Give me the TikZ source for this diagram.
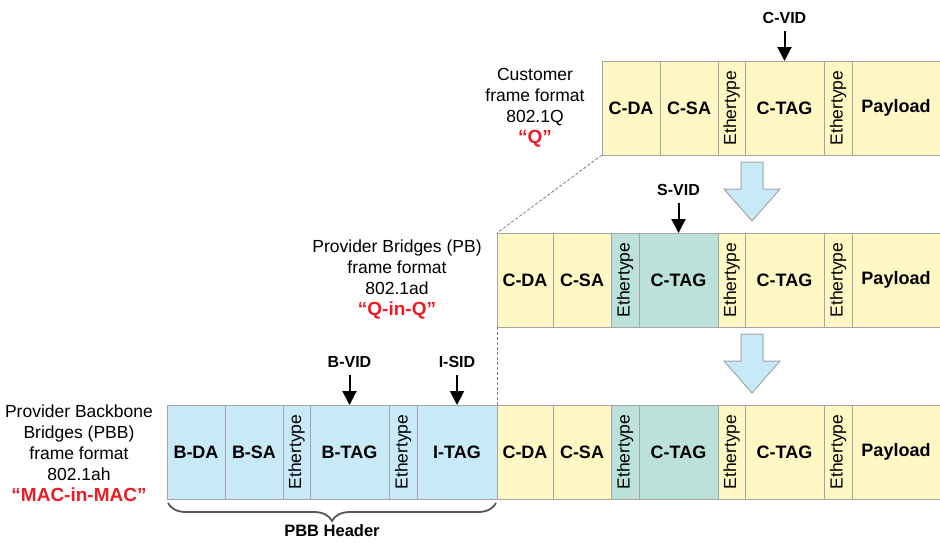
\documentclass[tikz,border=0pt]{standalone}
\usepackage{fontspec}
\setmainfont{Liberation Sans}
\usetikzlibrary{arrows.meta,decorations.pathreplacing,calc}
\definecolor{ylw}{RGB}{255,248,196}
\definecolor{blu}{RGB}{199,233,248}
\definecolor{tea}{RGB}{187,225,216}
\definecolor{bord}{RGB}{165,165,165}
\definecolor{redc}{RGB}{237,28,36}
\definecolor{bracec}{RGB}{85,85,85}
\newcommand\ety{\rotatebox{90}{\fontsize{17.5}{17.5}\selectfont\mdseries Ethertype}}
\newcommand\redline[1]{{\color{redc}\bfseries\fontsize{19}{21}\selectfont #1}}
\begin{document}
\begin{tikzpicture}[x=1pt,y=-1pt,
  cell/.style={draw=bord, line width=1pt, minimum height=94pt, inner sep=0pt, outer sep=0pt, anchor=north west, font=\fontsize{18}{18}\selectfont\bfseries},
  yc/.style={cell, fill=ylw},
  bc/.style={cell, fill=blu},
  tc/.style={cell, fill=tea},
  lbl/.style={align=center, font=\fontsize{17.5}{21}\selectfont, inner sep=0pt},
  vid/.style={font=\fontsize{16}{16}\selectfont\bfseries, inner sep=0pt},
  vidarrow/.style={line width=2pt, -{Triangle[width=14pt,length=14pt]}, shorten <=7pt},
  bigarrow/.style={draw=bord, line width=1pt, fill=blu, line join=miter},
  dashline/.style={draw=bord!80!black, line width=0.9pt, dash pattern=on 3pt off 2pt}
]
\useasboundingbox (0,0) rectangle (940,542);

% ---------- top row (802.1Q)
\node[yc, minimum width=58pt] (t1) at (602,61) {C-DA};
\node[yc, minimum width=58pt] (t2) at (660,61) {C-SA};
\node[yc, minimum width=27pt] (t3) at (718,61) {\ety};
\node[yc, minimum width=79pt] (t4) at (745,61) {C-TAG};
\node[yc, minimum width=28pt] (t5) at (824,61) {\ety};
\node[yc, minimum width=90pt] (t6) at (852,61) {\hspace*{-2pt}Payload};

% ---------- middle row (802.1ad)
\node[yc, minimum width=56pt] (m1) at (497,233) {C-DA};
\node[yc, minimum width=58pt] (m2) at (553,233) {C-SA};
\node[tc, minimum width=28pt] (m3) at (611,233) {\ety};
\node[tc, minimum width=79pt] (m4) at (639,233) {C-TAG};
\node[yc, minimum width=27pt] (m5) at (718,233) {\ety};
\node[yc, minimum width=79pt] (m6) at (745,233) {C-TAG};
\node[yc, minimum width=28pt] (m7) at (824,233) {\ety};
\node[yc, minimum width=90pt] (m8) at (852,233) {\hspace*{-2pt}Payload};

% ---------- bottom row (802.1ah)
\node[bc, minimum width=58pt] (b1) at (167,405) {B-DA};
\node[bc, minimum width=58pt] (b2) at (225,405) {B-SA};
\node[bc, minimum width=27pt] (b3) at (283,405) {\ety};
\node[bc, minimum width=79pt] (b4) at (310,405) {B-TAG};
\node[bc, minimum width=28pt] (b5) at (389,405) {\ety};
\node[bc, minimum width=80pt] (b6) at (417,405) {I-TAG};
\node[yc, minimum width=56pt] (c1) at (497,405) {C-DA};
\node[yc, minimum width=58pt] (c2) at (553,405) {C-SA};
\node[tc, minimum width=28pt] (c3) at (611,405) {\ety};
\node[tc, minimum width=79pt] (c4) at (639,405) {C-TAG};
\node[yc, minimum width=27pt] (c5) at (718,405) {\ety};
\node[yc, minimum width=79pt] (c6) at (745,405) {C-TAG};
\node[yc, minimum width=28pt] (c7) at (824,405) {\ety};
\node[yc, minimum width=90pt] (c8) at (852,405) {\hspace*{-2pt}Payload};

% ---------- labels on the left
\node[lbl] (lq) at (535,108) {Customer\\frame format\\802.1Q\\\redline{“Q”}};
\node[lbl] (lqq) at (397,280) {Provider Bridges (PB)\\frame format\\802.1ad\\\redline{“Q-in-Q”}};
\node[lbl] (lmm) at (79,453) {Provider Backbone\\Bridges (PBB)\\frame format\\802.1ah\\\redline{“MAC-in-MAC”}};

% ---------- VID labels and arrows
\node[vid] (cvid) at (784.5,18) {C-VID};
\draw[vidarrow] (cvid.south) -- (t4.north);
\node[vid] (svid) at (678.5,190) {S-VID};
\draw[vidarrow] (svid.south) -- (m4.north);
\node[vid] (bvid) at (349.5,362) {B-VID};
\draw[vidarrow] (bvid.south) -- (b4.north);
\node[vid] (isid) at (457,362) {I-SID};
\draw[vidarrow] (isid.south) -- (b6.north);

% ---------- big block arrows
\draw[bigarrow] (741,162) -- (763,162) -- (763,189) -- (780,189) -- (752,221) -- (724,189) -- (741,189) -- cycle;
\draw[bigarrow] (741,334) -- (763,334) -- (763,361) -- (780,361) -- (752,393) -- (724,361) -- (741,361) -- cycle;

% ---------- dashed guide lines
\draw[dashline] (t1.south west) -- (m1.north west);
\draw[dashline] (m1.south west) -- (c1.north west);

% ---------- brace
\draw[bracec, line width=1.8pt, decorate, decoration={brace, amplitude=18pt}] ($(b6.south east)+(-1,4)$) -- ($(b1.south west)+(1,4)$);
\node[vid, font=\fontsize{16.5}{16.5}\selectfont\bfseries] (pbb) at (332,531) {PBB Header};
\end{tikzpicture}
\end{document}
